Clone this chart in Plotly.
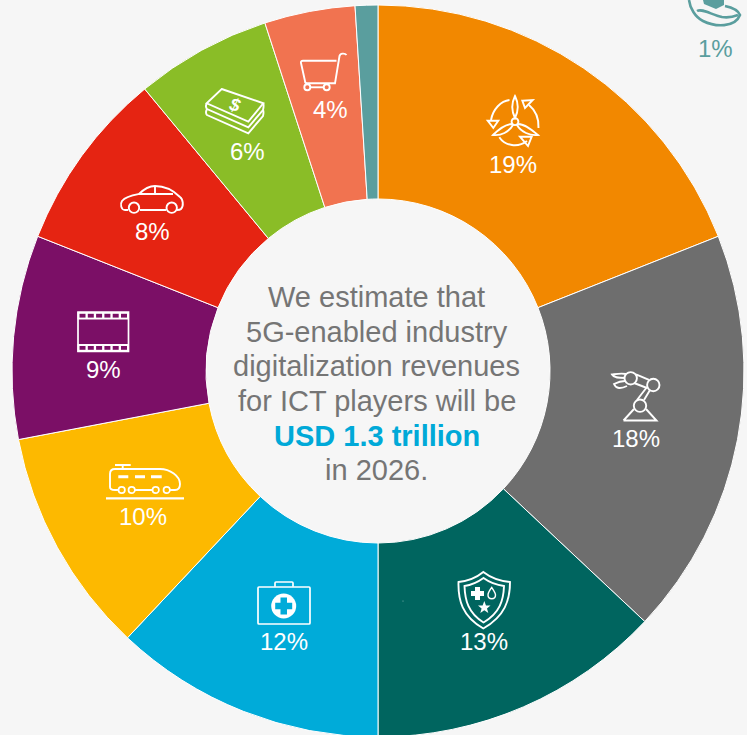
import plotly.graph_objects as go

W, H = 747, 737  # the ring runs slightly past the 735 px window, as in the reference
BG = "#f6f6f6"
sectors = ["Energy and utilities", "Manufacturing", "Public safety", "Healthcare", "Public transport",
           "Media and entertainment", "Automotive", "Financial services", "Retail", "Agriculture"]
values = [19, 18, 13, 12, 10, 9, 8, 6, 4, 1]
colors = ["#f28800", "#6e6e6e", "#00655f", "#00abd9", "#fdb900", "#7b0f66", "#e52412", "#8abd27", "#f17350", "#5a9e9e"]
label_x = [513, 636, 484, 284, 143, 103, 152, 247, 330, 715]
label_y = [164, 439, 641, 641, 516, 369, 231, 151, 110, 48]
center_lines = ["We estimate that", "5G-enabled industry", "digitalization revenues", "for ICT players will be",
                "USD 1.3 trillion", "in 2026."]
center_y = [297, 332, 366, 401, 436, 470]
FONT = "Liberation Sans"


def X(v):
    return v / W


def Y(v):
    return 1 - v / H


def conv(path):
    out, isx = [], True
    for t in path.split():
        if t[0].isalpha():
            out.append(t)
            isx = True
        else:
            out.append(f"{X(float(t)) if isx else Y(float(t)):.5f}")
            isx = not isx
    return " ".join(out)


shapes = []


def stroke(path, color="white", w=1.9, fill=None):
    shapes.append(dict(type="path", xref="paper", yref="paper", path=conv(path.replace(",", " ")),
                       line=dict(color=color, width=w), fillcolor=fill or "rgba(0,0,0,0)", layer="above"))


def filled(path, color="white"):
    shapes.append(dict(type="path", xref="paper", yref="paper", path=conv(path.replace(",", " ")),
                       line=dict(color=color, width=0), fillcolor=color, layer="above"))


def circ(cx, cy, r, color="white", w=1.9, fill=None):
    shapes.append(dict(type="circle", xref="paper", yref="paper", x0=X(cx - r), x1=X(cx + r), y0=Y(cy + r), y1=Y(cy - r),
                       line=dict(color=color, width=w), fillcolor=fill or "rgba(0,0,0,0)", layer="above"))


# Turbine
circ(515, 121.7, 3.4)
stroke("M 515,118 C 511,110 512,102 515,96 C 518,102 519,110 515,118 Z")
stroke("M 512,124 C 505,124 498,130 493,135 C 501,136 509,132 513,125 Z")
stroke("M 518,124 C 525,124 532,130 538,135 C 530,136 521,132 517,125 Z")
stroke("M 509.5,100 C 501,101 493,109 491,120")
stroke("M 487.7,120.7 L 498.3,120.7 L 493.3,128 Z")
stroke("M 529,105 C 535,110 539,118 538.5,128")
stroke("M 522.3,100.7 L 532.7,100 L 525,108 Z")
stroke("M 499.3,137.3 C 505,146 518,148 527,141")
stroke("M 520,136.7 L 531.7,136.7 L 528,146 Z")

# Robot arm
stroke("M 623.5,420.5 L 656.5,420.5 L 646,409 M 634,409 L 623.5,420.5 M 644,400 L 650,390 M 637,400 L 647,387")
circ(640, 405.7, 6.2)
circ(653.3, 385, 6.2)
circ(630.7, 378.3, 6.2)
stroke("M 636,374.5 L 649,380 M 634,383 L 647,388")
stroke("M 626,374 C 621,373 616,374 612,374.5 C 614,378 619,378 625,378")
stroke("M 625,381 C 621,381 618,382 614,384 C 616,389 621,389 627,386")

# Shield
stroke("M 483.3,572 C 476,578 468,581 458.5,582 C 458,600 462,616 483.3,628.5 C 505,616 510,600 510,582 C 499,581 491,578 483.3,572 Z")
stroke("M 483.5,578 C 478,582 472,585 464.5,586 C 465,600 468,613 483.5,622.5 C 500,613 503.5,600 504,586 C 496,585 489,582 483.5,578 Z")
filled("M 475,587 L 480,587 L 480,591 L 484,591 L 484,596 L 480,596 L 480,600 L 475,600 L 475,596 L 471,596 L 471,591 L 475,591 Z")
stroke("M 491.7,587.5 C 489,591 488,593 488,595 C 488,600 495.5,600 495.5,595 C 495.5,593 494,591 491.7,587.5 Z", w=1.4)
filled("M 484.3,601 L 486,605.5 L 490.5,605.5 L 487,608.5 L 488.3,613 L 484.3,610.3 L 480.3,613 L 481.6,608.5 L 478,605.5 L 482.6,605.5 Z")

# Medical case
stroke("M 259,587 L 309,587 Q 310,587 310,588 L 310,623 Q 310,624 309,624 L 259,624 Q 258,624 258,623 L 258,588 Q 258,587 259,587 Z", w=1.7)
stroke("M 275,586.7 L 275,583 Q 275,582 276,582 L 292,582 Q 293,582 293,583 L 293,586.7", w=1.7)
circ(283.7, 606, 12.5, w=0, fill="white")
filled("M 280.5,597.5 L 287,597.5 L 287,602.8 L 292.2,602.8 L 292.2,609.2 L 287,609.2 L 287,614.5 L 280.5,614.5 L 280.5,609.2 L 275.2,609.2 L 275.2,602.8 L 280.5,602.8 Z", colors[3])

# Train
stroke("M 106,498.3 L 184,498.3", w=2.3)
stroke("M 118,490 L 115,490 Q 110,490 110,487 L 110,474 Q 110,469 115,469 L 160,469 C 170,469 180,476 180,484 Q 180,490 175,490 L 170,490 M 135,490 L 152,490")
stroke("M 115,465 L 130.7,465 M 122.7,465 L 122.7,469")
stroke("M 118.3,476.7 L 128.3,476.7 M 135,476.7 L 145,476.7 M 151,476.7 L 161.7,476.7", w=3)
for wx in [121.7, 131.7, 155.7, 166.7]:
    circ(wx, 490, 3.2, w=1.7)

# Film
filled("M 77.5,312 L 129,312 L 129,319.5 L 77.5,319.5 Z")
filled("M 77.5,344 L 129,344 L 129,352 L 77.5,352 Z")
stroke("M 78,312 L 128.5,312 L 128.5,351.5 L 78,351.5 Z", w=1.7)
for hx in [79.5, 87.8, 96.1, 104.4, 112.7, 121]:
    for hy in [313.8, 346]:
        filled(f"M {hx},{hy} L {hx + 6},{hy} L {hx + 6},{hy + 3.8} L {hx},{hy + 3.8} Z", colors[5])

# Car
circ(134, 207.7, 5.2)
circ(171.7, 207.7, 5.2)
stroke("M 128,210 L 125,210 C 121,210 120,204 122,201 C 126,196 133,195 139,194 C 144,189 149,186 155,186 C 166,186 174,191 180,197 C 183,199 184,206 181,209 C 180,210 179,210 177,210 M 140,210 L 166,210")
stroke("M 139,194 L 173,194 M 155,186 L 155,194")

# Money
stroke("M 221.7,89 L 263.3,103.3 L 248.3,121.7 L 206.7,103.3 Z")
stroke("M 206.7,103.3 Q 205,107 207,109 L 248.3,127.3 L 263,110 Q 264,106 263.3,103.3")
stroke("M 207,109 Q 205,113 207,115 L 248.3,133.3 L 263,116 Q 264,112 263,110")

# Cart
stroke("M 346.5,55 C 345,53 340,53 339.5,56 L 335,83.3 L 307,83.3 Q 305,83.3 305,81 L 301,63 Q 300.5,60.7 303,60.7 L 336.5,60.7")
circ(307.3, 87.3, 3)
circ(326.7, 87.3, 3)
stroke("M 311,87.3 L 323,87.3")

# Hand (agriculture)
T = colors[9]
stroke("M 689,0 C 690,8 695,17 703,21 C 715,27 735,28 740,15 C 738,10 730,7 725,6", color=T, w=2.6)
stroke("M 697,11 C 702,8 712,15 722,17 C 728,18 733,17 738,15", color=T, w=2.6)
filled("M 703,0 L 724,0 L 724,5 L 716,9 L 704,4 Z", T)

# small speck in the dark-teal slice
circ(403, 601, 0.5, color="#9cc4c1", w=0, fill="#9cc4c1")

annotations = []
for i, (v, x, y) in enumerate(zip(values, label_x, label_y)):
    annotations.append(dict(text=f"{v}%", x=X(x), y=Y(y), xref="paper", yref="paper", showarrow=False,
                            xanchor="center", yanchor="middle",
                            font=dict(family=FONT, size=24, color=T if i == 9 else "white")))
for line, y in zip(center_lines, center_y):
    blue = line.startswith("USD")
    annotations.append(dict(text=f"<b>{line}</b>" if blue else line, x=X(376.5), y=Y(y), xref="paper", yref="paper",
                            showarrow=False, xanchor="center", yanchor="middle",
                            font=dict(family=FONT, size=29, color="#00a9d8" if blue else "#757575")))
annotations.append(dict(text="<b><i>$</i></b>", x=X(235), y=Y(105), xref="paper", yref="paper", showarrow=False,
                        xanchor="center", yanchor="middle", textangle=15,
                        font=dict(family=FONT, size=18, color="white")))

fig = go.Figure(go.Pie(
    labels=sectors, values=values, sort=False, direction="clockwise", rotation=0, hole=0.47,
    marker=dict(colors=colors, line=dict(color="white", width=1)),
    textinfo="none", showlegend=False,
    domain=dict(x=[12 / W, 744 / W], y=[0, 1 - 5 / H]),
))
fig.update_layout(width=W, height=H, margin=dict(l=0, r=0, t=0, b=0), paper_bgcolor=BG, plot_bgcolor=BG,
                  shapes=shapes, annotations=annotations, font=dict(family=FONT))
fig.write_html("out.html", config=dict(displayModeBar=False), post_script=(
    "document.documentElement.style.margin='0';document.body.style.margin='0';"
    "document.documentElement.style.overflow='hidden';"
    "document.body.style.overflow='hidden';document.body.style.background='" + BG + "';"
))
